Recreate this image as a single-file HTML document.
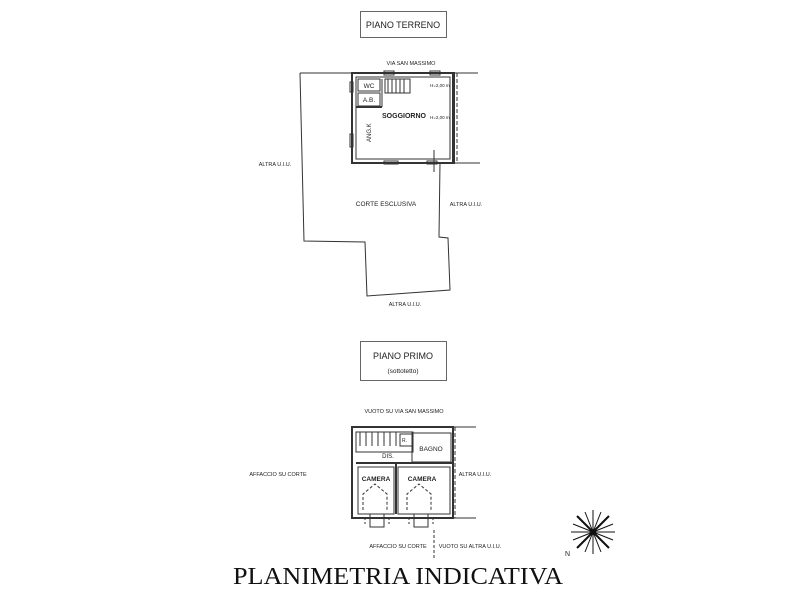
<!DOCTYPE html>
<html><head><meta charset="utf-8"><style>
html,body{margin:0;padding:0;background:#fff;}
svg{display:block}
.t{font-family:"Liberation Sans",sans-serif;fill:#222}
</style></head><body>
<svg width="800" height="600" viewBox="0 0 800 600" xmlns="http://www.w3.org/2000/svg">
<g fill="none" stroke="#333" stroke-width="1">
<rect x="360.5" y="11.5" width="86" height="26" stroke="#666"/>
<rect x="360.5" y="341.5" width="86" height="39" stroke="#666"/>
<polyline points="300,73 478,73"/>
<polyline points="300,73 304,241 365,242 367,296 450,290 448,238 439,237 440,163 480,163"/>
<rect x="352" y="73" width="102" height="90" stroke-width="2"/>
<rect x="356" y="77" width="94" height="82" stroke-width="1"/>
<line x1="453" y1="73" x2="453" y2="163" stroke-width="2"/>
<line x1="457" y1="73" x2="457" y2="163" stroke-dasharray="4,2"/>
<rect x="358" y="79" width="22" height="12"/>
<rect x="358" y="93" width="22" height="13"/>
<line x1="356" y1="107" x2="382" y2="107" stroke-width="2"/>
<line x1="382" y1="79" x2="382" y2="107"/>
<rect x="385" y="79" width="25" height="14"/>
<line x1="388" y1="79" x2="388" y2="93"/><line x1="392" y1="79" x2="392" y2="93"/><line x1="396" y1="79" x2="396" y2="93"/><line x1="400" y1="79" x2="400" y2="93"/><line x1="404" y1="79" x2="404" y2="93"/>
<rect x="384" y="71" width="10" height="4"/><rect x="430" y="71" width="10" height="4"/>
<rect x="384" y="161" width="14" height="3"/><rect x="427" y="161" width="10" height="3"/>
<line x1="434" y1="150" x2="434" y2="172"/>
<rect x="350" y="82" width="3" height="10"/><rect x="350" y="134" width="3" height="13"/>
<rect x="352" y="427" width="101" height="91" stroke-width="2"/>
<line x1="453" y1="427" x2="476" y2="427"/><line x1="453" y1="518" x2="476" y2="518"/>
<line x1="455" y1="427" x2="455" y2="518" stroke-dasharray="4,2"/>
<rect x="356" y="432" width="57" height="20"/>
<line x1="360" y1="432" x2="360" y2="446"/><line x1="366" y1="432" x2="366" y2="446"/><line x1="372" y1="432" x2="372" y2="446"/><line x1="378" y1="432" x2="378" y2="446"/><line x1="384" y1="432" x2="384" y2="446"/><line x1="390" y1="432" x2="390" y2="446"/><line x1="396" y1="432" x2="396" y2="446"/>
<rect x="400" y="434" width="12" height="12"/>
<rect x="412" y="433" width="39" height="29"/>
<line x1="356" y1="463" x2="452" y2="463" stroke-width="2"/>
<line x1="396" y1="463" x2="396" y2="514" stroke-width="2"/>
<rect x="358" y="467" width="36" height="47"/>
<rect x="398" y="467" width="52" height="47"/>
<polyline points="363,510 363,494 375,484 387,494 387,510" stroke-dasharray="3,2"/>
<polyline points="407,510 407,494 419,484 431,494 431,510" stroke-dasharray="3,2"/>
<rect x="370" y="514" width="14" height="13"/><rect x="414" y="514" width="14" height="13"/>
<line x1="365" y1="518" x2="365" y2="524" stroke-dasharray="2,2"/><line x1="389" y1="518" x2="389" y2="524" stroke-dasharray="2,2"/>
<line x1="409" y1="518" x2="409" y2="524" stroke-dasharray="2,2"/><line x1="433" y1="518" x2="433" y2="524" stroke-dasharray="2,2"/>
<line x1="434" y1="530" x2="434" y2="560" stroke-dasharray="3,2"/>
</g>
<text class="t" x="403" y="28" font-size="9" text-anchor="middle">PIANO TERRENO</text>
<text class="t" x="403" y="359" font-size="9" text-anchor="middle">PIANO PRIMO</text>
<text class="t" x="403" y="373" font-size="6.5" text-anchor="middle">(sottotetto)</text>
<text class="t" x="411" y="65" font-size="5.5" text-anchor="middle">VIA SAN MASSIMO</text>
<text class="t" x="369" y="88" font-size="6.5" text-anchor="middle">WC</text>
<text class="t" x="369" y="102" font-size="6.5" text-anchor="middle">A.B.</text>
<text class="t" x="404" y="118" font-size="7" font-weight="bold" text-anchor="middle">SOGGIORNO</text>
<text class="t" x="430" y="87" font-size="4.5">H=2,00 m</text>
<text class="t" x="430" y="119" font-size="4.5">H=2,00 m</text>
<text class="t" font-size="6" transform="translate(371,142) rotate(-90)">ANG.K</text>
<text class="t" x="275" y="166" font-size="5.5" text-anchor="middle">ALTRA U.I.U.</text>
<text class="t" x="386" y="206" font-size="6.5" text-anchor="middle">CORTE ESCLUSIVA</text>
<text class="t" x="466" y="206" font-size="5.5" text-anchor="middle">ALTRA U.I.U.</text>
<text class="t" x="405" y="306" font-size="5.5" text-anchor="middle">ALTRA U.I.U.</text>
<text class="t" x="404" y="413" font-size="5.5" text-anchor="middle">VUOTO SU VIA SAN MASSIMO</text>
<text class="t" x="402" y="442" font-size="5">R.</text>
<text class="t" x="431" y="451" font-size="6.5" text-anchor="middle">BAGNO</text>
<text class="t" x="388" y="458" font-size="6" text-anchor="middle">DIS.</text>
<text class="t" x="278" y="476" font-size="5.5" text-anchor="middle">AFFACCIO SU CORTE</text>
<text class="t" x="475" y="476" font-size="5.5" text-anchor="middle">ALTRA U.I.U.</text>
<text class="t" x="376" y="481" font-size="6.5" font-weight="bold" text-anchor="middle">CAMERA</text>
<text class="t" x="422" y="481" font-size="6.5" font-weight="bold" text-anchor="middle">CAMERA</text>
<text class="t" x="398" y="548" font-size="5.5" text-anchor="middle">AFFACCIO SU CORTE</text>
<text class="t" x="470" y="548" font-size="5.5" text-anchor="middle">VUOTO SU ALTRA U.I.U.</text>
<text x="233" y="584" font-family="'Liberation Serif',serif" font-size="24" textLength="330" lengthAdjust="spacingAndGlyphs" fill="#111">PLANIMETRIA INDICATIVA</text>
<g stroke="#111" stroke-width="1" transform="translate(593,532)">
<line x1="-22" y1="0" x2="22" y2="0"/><line x1="0" y1="-22" x2="0" y2="22"/>
<line x1="-16" y1="-16" x2="16" y2="16" stroke-width="2"/><line x1="-16" y1="16" x2="16" y2="-16" stroke-width="2"/>
<line x1="-20" y1="-8" x2="20" y2="8"/><line x1="-8" y1="-20" x2="8" y2="20"/>
<line x1="-20" y1="8" x2="20" y2="-8"/><line x1="-8" y1="20" x2="8" y2="-20"/>
</g>
<text class="t" x="565" y="556" font-size="7">N</text>
</svg>
</body></html>
